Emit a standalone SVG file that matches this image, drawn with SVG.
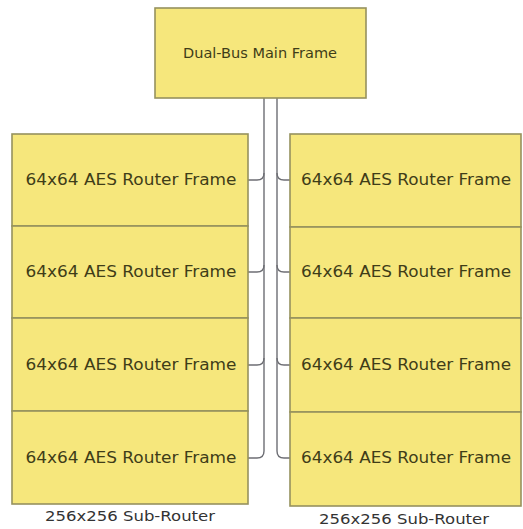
<svg xmlns="http://www.w3.org/2000/svg" width="523" height="529" viewBox="0 0 523 529">
<style>
.box{fill:#f6e77c;stroke:#96925e;stroke-width:1.6}
.t{font-family:"DejaVu Sans",Verdana,sans-serif;font-size:15px;fill:#3f3d18;text-anchor:middle}
.m{font-size:14px}
.lbl{font-family:"DejaVu Sans",Verdana,sans-serif;font-size:14.5px;fill:#333;text-anchor:middle}
.c{fill:none;stroke:#6d6e74;stroke-width:1.4}
</style>
<rect width="523" height="529" fill="#ffffff"/>
<g id="connectors">
<path class="c" d="M264,98 V451 Q264,458 257,458 H248"/>
<path class="c" d="M248,180 H257 Q264,180 264,173"/>
<path class="c" d="M248,272 H257 Q264,272 264,265"/>
<path class="c" d="M248,365 H257 Q264,365 264,358"/>
<path class="c" d="M277,98 V451 Q277,458 284,458 H290"/>
<path class="c" d="M290,180 H284 Q277,180 277,173"/>
<path class="c" d="M290,272 H284 Q277,272 277,265"/>
<path class="c" d="M290,365 H284 Q277,365 277,358"/>
</g>
<g id="main"><rect class="box" x="155" y="8" width="211" height="90"/><text class="t m" x="260" y="58" textLength="154" lengthAdjust="spacingAndGlyphs">Dual-Bus Main Frame</text></g>
<g id="L1"><rect class="box" x="12" y="134" width="236" height="92"/><text class="t" x="131" y="185" textLength="211" lengthAdjust="spacingAndGlyphs">64x64 AES Router Frame</text></g>
<g id="L2"><rect class="box" x="12" y="226" width="236" height="92"/><text class="t" x="131" y="277" textLength="211" lengthAdjust="spacingAndGlyphs">64x64 AES Router Frame</text></g>
<g id="L3"><rect class="box" x="12" y="318" width="236" height="93"/><text class="t" x="131" y="370" textLength="211" lengthAdjust="spacingAndGlyphs">64x64 AES Router Frame</text></g>
<g id="L4"><rect class="box" x="12" y="411" width="236" height="93"/><text class="t" x="131" y="463" textLength="211" lengthAdjust="spacingAndGlyphs">64x64 AES Router Frame</text></g>
<g id="R1"><rect class="box" x="290" y="134" width="231" height="93"/><text class="t" x="406" y="185" textLength="210" lengthAdjust="spacingAndGlyphs">64x64 AES Router Frame</text></g>
<g id="R2"><rect class="box" x="290" y="227" width="231" height="91"/><text class="t" x="406" y="277" textLength="210" lengthAdjust="spacingAndGlyphs">64x64 AES Router Frame</text></g>
<g id="R3"><rect class="box" x="290" y="318" width="231" height="94"/><text class="t" x="406" y="370" textLength="210" lengthAdjust="spacingAndGlyphs">64x64 AES Router Frame</text></g>
<g id="R4"><rect class="box" x="290" y="412" width="231" height="94"/><text class="t" x="406" y="463" textLength="210" lengthAdjust="spacingAndGlyphs">64x64 AES Router Frame</text></g>
<g id="labels">
<text class="lbl" x="130" y="521" textLength="170" lengthAdjust="spacingAndGlyphs">256x256 Sub-Router</text>
<text class="lbl" x="404" y="524" textLength="170" lengthAdjust="spacingAndGlyphs">256x256 Sub-Router</text>
</g>
</svg>
